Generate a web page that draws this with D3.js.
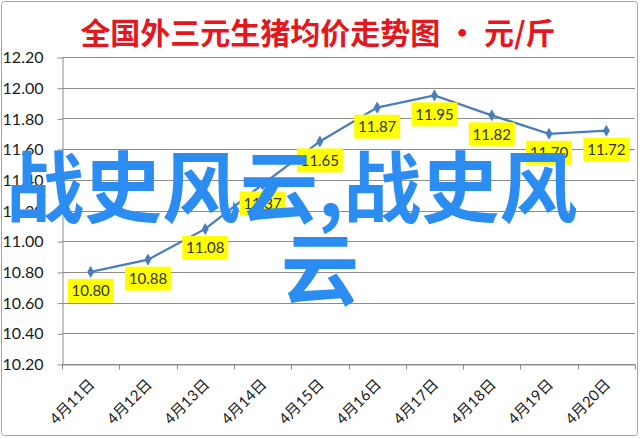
<!DOCTYPE html>
<html>
<head>
<meta charset="utf-8">
<script src="https://cdn.jsdelivr.net/npm/d3@7"></script>
<style>
  html, body { margin: 0; padding: 0; background: #fff; }
  svg { display: block; }
</style>
</head>
<body>
<div id="chart"></div>
<script>
'use strict';

// chart data
const dates = ['4月11日', '4月12日', '4月13日', '4月14日', '4月15日',
               '4月16日', '4月17日', '4月18日', '4月19日', '4月20日'];
const prices = [10.80, 10.88, 11.08, 11.37, 11.65, 11.87, 11.95, 11.82, 11.70, 11.72];
const yTicks = [10.20, 10.40, 10.60, 10.80, 11.00, 11.20, 11.40, 11.60, 11.80, 12.00, 12.20];
const title = '全国外三元生猪均价走势图 · 元/斤';
const watermark = ['战史风云,战史风', '云'];

const width = 640, height = 439;
const plot = { left: 62, right: 635, top: 57, bottom: 364 };
const numFont = 'Lato, "Liberation Sans", "Noto Sans CJK SC", sans-serif';
const cjkFont = '"Noto Sans CJK SC", sans-serif';

const svg = d3.select('#chart').append('svg')
  .attr('width', width)
  .attr('height', height)
  .attr('viewBox', `0 0 ${width} ${height}`);

// outer frame
svg.append('rect')
  .attr('x', 1.5).attr('y', 1.5)
  .attr('width', width - 4).attr('height', height - 5)
  .attr('rx', 3)
  .attr('fill', '#fff')
  .attr('stroke', '#a6a6a6');

const x = d3.scaleBand().domain(dates).range([plot.left, plot.right]);
const y = d3.scaleLinear().domain([10.2, 12.2]).range([plot.bottom, plot.top]);
const cx = d => x(d) + x.bandwidth() / 2;

// gridlines
svg.append('g')
  .selectAll('line')
  .data(yTicks)
  .enter().append('line')
  .attr('x1', plot.left).attr('x2', plot.right)
  .attr('y1', d => Math.round(y(d)) + 0.5).attr('y2', d => Math.round(y(d)) + 0.5)
  .attr('stroke', '#8c8c8c');

// y axis
const yAxis = svg.append('g')
  .attr('transform', `translate(${plot.left + 0.5},0.5)`)
  .call(d3.axisLeft(y).tickValues(yTicks).tickFormat(d3.format('.2f'))
    .tickSize(5).tickSizeOuter(0).tickPadding(14));
yAxis.select('.domain').attr('stroke', '#8c8c8c');
yAxis.selectAll('.tick line').attr('stroke', '#8c8c8c');
yAxis.selectAll('text')
  .attr('font-family', numFont)
  .attr('font-size', 16)
  .attr('fill', '#1a1a1a');

// x axis
const xAxis = svg.append('g')
  .attr('transform', `translate(0,${plot.bottom + 0.5})`)
  .call(d3.axisBottom(x).tickSize(0).tickSizeOuter(0));
xAxis.select('.domain').attr('stroke', '#8c8c8c');
xAxis.selectAll('text')
  .attr('font-family', numFont)
  .attr('font-size', 15)
  .attr('fill', '#1a1a1a')
  .attr('text-anchor', 'end')
  .attr('y', 0).attr('dy', 0)
  .attr('transform', 'translate(5,21) rotate(-45)');

// category boundary ticks
xAxis.selectAll('.bound')
  .data(dates.map(d => x(d)).concat([plot.right]))
  .enter().append('line')
  .attr('class', 'bound')
  .attr('x1', d => Math.round(d) + 0.5).attr('x2', d => Math.round(d) + 0.5)
  .attr('y1', 0).attr('y2', 5)
  .attr('stroke', '#8c8c8c');

// price line
const series = dates.map((d, i) => ({ date: d, value: prices[i] }));

svg.append('path')
  .datum(series)
  .attr('fill', 'none')
  .attr('stroke', '#4a7ebb')
  .attr('stroke-width', 2.25)
  .attr('d', d3.line().x(d => cx(d.date)).y(d => y(d.value)));

svg.append('g')
  .selectAll('path')
  .data(series)
  .enter().append('path')
  .attr('transform', d => `translate(${cx(d.date)},${y(d.value)})`)
  .attr('d', d3.symbol(d3.symbolDiamond, 42))
  .attr('fill', '#4a7ebb');

// data labels
const labels = svg.append('g')
  .selectAll('g')
  .data(series)
  .enter().append('g')
  .attr('transform', d => `translate(${cx(d.date)},${y(d.value) + 19})`);

labels.append('rect')
  .attr('x', -23).attr('y', -12)
  .attr('width', 46).attr('height', 24)
  .attr('fill', '#ffff00');

labels.append('text')
  .attr('text-anchor', 'middle')
  .attr('dy', '0.36em')
  .attr('font-family', numFont)
  .attr('font-size', 15)
  .attr('fill', '#333')
  .text(d => d.value.toFixed(2));

// title
svg.append('text')
  .attr('x', 318).attr('y', 44)
  .attr('text-anchor', 'middle')
  .attr('font-family', cjkFont)
  .attr('font-weight', 'bold')
  .attr('font-size', 30)
  .attr('fill', '#e5161e')
  .text(title);

// watermark overlay
svg.append('text')
  .attr('x', 6).attr('y', 217)
  .attr('font-family', cjkFont)
  .attr('font-weight', 'bold')
  .attr('font-size', 78)
  .attr('fill', '#2b8cf2')
  .text(watermark[0]);

svg.append('text')
  .attr('x', 320).attr('y', 299)
  .attr('text-anchor', 'middle')
  .attr('font-family', cjkFont)
  .attr('font-weight', 'bold')
  .attr('font-size', 78)
  .attr('fill', '#2b8cf2')
  .text(watermark[1]);
</script>
</body>
</html>
